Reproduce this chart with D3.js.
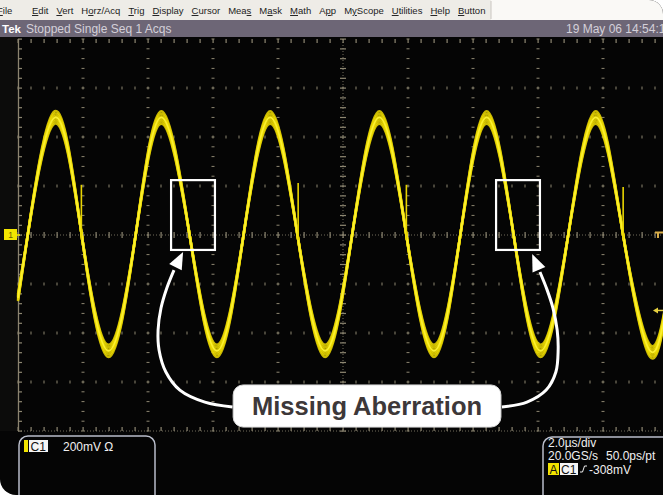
<!DOCTYPE html>
<html>
<head>
<meta charset="utf-8">
<script src="https://cdn.jsdelivr.net/npm/d3@7"></script>
<style>
  body { margin: 0; background: #fff; }
  svg { display: block; font-family: "Liberation Sans", Arial, sans-serif; }
</style>
</head>
<body>
<svg id="scope"></svg>
<script>
// scope settings
var timePerDiv = 2.0;    // us per division
var voltsPerDiv = 200;   // mV per division
var trigLevel = -308;    // mV

// menu / status bar
var menuItems = ["File", "Edit", "Vert", "Horz/Acq", "Trig", "Display", "Cursor", "Meas", "Mask", "Math", "App", "MyScope", "Utilities", "Help", "Button"];
var menuKeys = [0, 0, 0, 1, 0, 0, 0, 3, 1, 0, 1, 1, 0, 0, 0];
var statusWord = "Tek";
var statusText = "Stopped Single Seq 1 Acqs";
var dateText = "19 May 06 14:54:13";

// trace key points (us, mV): peaks, troughs, zero crossings
var traceT = [-10, -9.70, -8.87, -8.04, -7.21, -6.38, -5.59, -4.72, -3.88, -3.06, -2.24, -1.40, -0.55,
              0.28, 1.12, 1.95, 2.80, 3.61, 4.42, 5.25, 6.08, 6.93, 7.78, 8.62, 9.45, 10];
var traceV = [-270, 0, 505, 0, -498, 0, 505, 0, -498, 0, 505, 0, -498,
              0, 505, 0, -498, 0, 505, 0, -498, 0, 505, 0, -498, -250];

// glitches (the aberration) on the falling edges
var spikeT = [-8.05, -1.38, 1.95, 8.62];
var spikeV = [205, 212, 205, 196];

// where the glitch is missing (us / mV)
var boxT0 = [-5.29, 4.71];
var boxT1 = [-3.94, 6.06];
var boxVTop = 224;
var boxVBot = -61;

var calloutText = "Missing Aberration";
var calloutT = [-3.38, 4.86];
var calloutV = [-612, -784];

// callout arrows, path points in us / mV, last point is the tip
var arrow1T = [-3.40, -4.25, -5.02, -5.45, -5.66, -5.69, -5.60, -5.42, -5.20, -4.92];
var arrow1V = [-702, -682, -633, -559, -469, -388, -298, -216, -143, -69];
var arrow2T = [4.89, 5.66, 6.25, 6.55, 6.62, 6.59, 6.46, 6.28, 6.06, 5.82];
var arrow2V = [-702, -682, -633, -559, -469, -388, -298, -224, -151, -78];

// readouts
var chanName = "C1";
var chanScale = "200mV \u03a9";
var hReadout = ["2.0\u00b5s/div", "20.0GS/s", "50.0ps/pt"];
var trigSource = "C1";
var trigText = "-308mV";

var W = 663, H = 495;
var svg = d3.select("#scope").attr("width", W).attr("height", H);

// rounded frame of the screenshot
svg.append("clipPath").attr("id", "frame")
  .append("path").attr("d", "M0,0 H649 A14,14 0 0 1 663,14 V495 H16 A16,16 0 0 1 0,479 Z");
svg.append("filter").attr("id", "soft")
  .append("feGaussianBlur").attr("stdDeviation", 0.4);
var root = svg.append("g").attr("clip-path", "url(#frame)");

root.append("rect").attr("width", W).attr("height", H).attr("fill", "#050505");

// menu bar
root.append("rect").attr("width", W).attr("height", 20).attr("fill", "#faf9f6");
root.append("rect").attr("width", 491).attr("height", 20).attr("fill", "#eeece7");
root.append("line").attr("x1", 491).attr("x2", 491).attr("y1", 1).attr("y2", 19).attr("stroke", "#c9c6c0");

var menu = root.append("g").attr("font-size", "9.5px").attr("fill", "#1c1c1c");
var mx = 32;
menuItems.forEach(function(m, i) {
  var t = menu.append("text").attr("y", 14);
  var k = menuKeys[i];
  if (k > 0) t.append("tspan").text(m.slice(0, k));
  t.append("tspan").attr("text-decoration", "underline").text(m[k]);
  t.append("tspan").text(m.slice(k + 1));
  if (i == 0) {
    t.attr("x", -3);
  } else {
    t.attr("x", mx);
    mx += t.node().getComputedTextLength() + 8;
  }
});

// status bar
root.append("rect").attr("y", 20).attr("width", W).attr("height", 17).attr("fill", "#6d6676");
root.append("text").attr("x", 2).attr("y", 32.5).attr("font-size", "11.5px")
  .attr("font-weight", "bold").attr("fill", "#fff").text(statusWord);
root.append("text").attr("x", 26).attr("y", 33).attr("font-size", "12px")
  .attr("fill", "#d4d0d9").text(statusText);
root.append("text").attr("x", 566).attr("y", 33).attr("font-size", "12px")
  .attr("fill", "#d4d0d9").text(dateText);

// scales
var x = d3.scaleLinear().domain([-5 * timePerDiv, 5 * timePerDiv]).range([18, 668]);
var y = d3.scaleLinear().domain([-4 * voltsPerDiv, 4 * voltsPerDiv]).range([431, 39]);

// left strip
root.append("rect").attr("y", 37).attr("width", 18).attr("height", 394).attr("fill", "#0c0c0b");

// graticule
var gridCol = "#8e8772";
var grid = root.append("g").attr("fill", gridCol);
var minorT = d3.range(0, 51).map(function(i) { return -10 + i * timePerDiv / 5; });
var minorV = d3.range(0, 41).map(function(i) { return -800 + i * voltsPerDiv / 5; });
var majorT = d3.range(-4, 5).map(function(i) { return i * timePerDiv; }).filter(function(d) { return d != 0; });
var majorV = d3.range(-3, 4).map(function(i) { return i * voltsPerDiv; }).filter(function(d) { return d != 0; });

majorT.forEach(function(t) {
  grid.selectAll(null).data(minorV).enter().append("rect")
    .attr("x", x(t) - 1.5).attr("y", function(v) { return y(v) - 0.5; })
    .attr("width", 3).attr("height", 1);
});
majorV.forEach(function(v) {
  grid.selectAll(null).data(minorT).enter().append("rect")
    .attr("x", function(t) { return x(t) - 0.5; }).attr("y", y(v) - 1.5)
    .attr("width", 1).attr("height", 3);
});

// center cross with ticks
grid.append("line").attr("x1", 18).attr("x2", W).attr("y1", y(0)).attr("y2", y(0))
  .attr("stroke", gridCol).attr("stroke-dasharray", "1,2").attr("opacity", 0.8);
grid.append("line").attr("x1", x(0)).attr("x2", x(0)).attr("y1", 39).attr("y2", 431)
  .attr("stroke", gridCol).attr("stroke-dasharray", "1,2").attr("opacity", 0.8);
grid.selectAll(null).data(minorT).enter().append("rect")
  .attr("x", function(t) { return x(t) - 0.5; }).attr("y", y(0) - 3)
  .attr("width", 1.2).attr("height", 6);
grid.selectAll(null).data(minorV).enter().append("rect")
  .attr("x", x(0) - 3).attr("y", function(v) { return y(v) - 0.5; })
  .attr("width", 6).attr("height", 1.2);

// frame edges
grid.selectAll(null).data(minorT).enter().append("rect")
  .attr("x", function(t) { return x(t) - 0.5; }).attr("y", 39).attr("width", 1.2).attr("height", 4);
grid.selectAll(null).data(minorT).enter().append("rect")
  .attr("x", function(t) { return x(t) - 0.5; }).attr("y", 427).attr("width", 1.2).attr("height", 4);
grid.append("line").attr("x1", 18).attr("x2", W).attr("y1", 431).attr("y2", 431)
  .attr("stroke", gridCol).attr("stroke-dasharray", "1,2").attr("opacity", 0.8);
grid.selectAll(null).data(minorV).enter().append("rect")
  .attr("x", 18).attr("y", function(v) { return y(v) - 0.5; }).attr("width", 4).attr("height", 1.2);
root.append("line").attr("x1", 18.5).attr("x2", 18.5).attr("y1", 39).attr("y2", 431)
  .attr("stroke", "#8c8470").attr("stroke-width", 1.3);

// waveform: a few amplitude-jittered copies give the thick, fuzzy band at the peaks
var plot = root.append("g");
var tracePts = traceT.map(function(t, i) { return [t, traceV[i]]; });
var jitter = [1, 0.98, 0.96, 0.94, 0.92, 0.9];
var band = plot.append("g").attr("filter", "url(#soft)");
jitter.forEach(function(k) {
  var yk = d3.scaleLinear().domain(y.domain()).range([y(0) + (431 - y(0)) * k, y(0) - (y(0) - 39) * k]);
  var line = d3.line().curve(d3.curveNatural)
    .x(function(d) { return x(d[0]); })
    .y(function(d) { return yk(d[1]); });
  band.append("path").attr("d", line(tracePts))
    .attr("fill", "none").attr("stroke", "#ecd900").attr("stroke-width", 2.6).attr("opacity", 0.85);
});
var coreY = d3.scaleLinear().domain(y.domain()).range([y(0) + (431 - y(0)) * 0.95, y(0) - (y(0) - 39) * 0.95]);
plot.append("path")
  .attr("d", d3.line().curve(d3.curveNatural)
    .x(function(d) { return x(d[0]); })
    .y(function(d) { return coreY(d[1]); })(tracePts))
  .attr("fill", "none").attr("stroke", "#fbf030").attr("stroke-width", 1.8);

plot.selectAll(null).data(spikeT).enter().append("line")
  .attr("x1", function(t) { return x(t); }).attr("x2", function(t) { return x(t); })
  .attr("y1", y(-20)).attr("y2", function(t, i) { return y(spikeV[i]); })
  .attr("stroke", "#e8d400").attr("stroke-width", 1.6);

// channel 1 ground marker
root.append("rect").attr("x", 4).attr("y", y(0) - 6).attr("width", 13).attr("height", 11).attr("fill", "#f2e400");
root.append("text").attr("x", 10.5).attr("y", y(0) + 3).attr("font-size", "8.5px")
  .attr("text-anchor", "middle").attr("fill", "#6a6000").text("1");
root.append("line").attr("x1", 17).attr("x2", 20).attr("y1", y(0)).attr("y2", y(0))
  .attr("stroke", "#f2e400").attr("stroke-width", 1.5);

// trigger markers on the right
root.append("path").attr("d", "M655," + (y(0) - 2.5) + " H663 M658," + (y(0) - 2.5) + " V" + (y(0) + 3))
  .attr("stroke", "#d9ad48").attr("stroke-width", 2).attr("fill", "none");
var ty = y(trigLevel);
root.append("path").attr("d", "M657," + ty + " H663")
  .attr("stroke", "#e6d040").attr("stroke-width", 1.5);
root.append("path").attr("d", "M653," + ty + " L658," + (ty - 3) + " L658," + (ty + 3) + " Z")
  .attr("fill", "#e6d040");

// annotation boxes
var notes = root.append("g");
notes.selectAll(null).data(boxT0).enter().append("rect")
  .attr("x", function(t) { return x(t); }).attr("y", y(boxVTop))
  .attr("width", function(t, i) { return x(boxT1[i]) - x(t); })
  .attr("height", y(boxVBot) - y(boxVTop))
  .attr("fill", "none").attr("stroke", "#fff").attr("stroke-width", 2.2);

// arrows
function drawArrow(ts, vs) {
  var pts = ts.map(function(t, i) { return [x(t), y(vs[i])]; });
  var body = pts.slice(0, pts.length - 1);
  notes.append("path").attr("d", d3.line().curve(d3.curveCatmullRom)(body))
    .attr("fill", "none").attr("stroke", "#fff").attr("stroke-width", 3);
  var a = pts[pts.length - 2], b = pts[pts.length - 1];
  var ang = Math.atan2(b[1] - a[1], b[0] - a[0]);
  var len = 17, half = 7;
  var bx = b[0] - len * Math.cos(ang), by = b[1] - len * Math.sin(ang);
  var p1 = [bx + half * Math.sin(ang), by - half * Math.cos(ang)];
  var p2 = [bx - half * Math.sin(ang), by + half * Math.cos(ang)];
  notes.append("path").attr("d", "M" + b + "L" + p1 + "L" + p2 + "Z").attr("fill", "#fff");
}
drawArrow(arrow1T, arrow1V);
drawArrow(arrow2T, arrow2V);

// callout label
notes.append("rect")
  .attr("x", x(calloutT[0])).attr("y", y(calloutV[0]))
  .attr("width", x(calloutT[1]) - x(calloutT[0])).attr("height", y(calloutV[1]) - y(calloutV[0]))
  .attr("rx", 10).attr("fill", "#fff").attr("stroke", "#d8d8d8");
notes.append("text")
  .attr("x", (x(calloutT[0]) + x(calloutT[1])) / 2).attr("y", 415)
  .attr("text-anchor", "middle").attr("font-size", "25.5px").attr("font-weight", "bold")
  .attr("fill", "#3d3839").text(calloutText);

// readout boxes
var ro = root.append("g").attr("font-size", "12px");
ro.append("rect").attr("x", 19).attr("y", 436).attr("width", 136).attr("height", 80).attr("rx", 9)
  .attr("fill", "#050505").attr("stroke", "#b9bdca").attr("stroke-width", 1.5);
ro.append("rect").attr("x", 24).attr("y", 440).attr("width", 4).attr("height", 12).attr("fill", "#f2e400");
ro.append("rect").attr("x", 29).attr("y", 440).attr("width", 19).attr("height", 12).attr("fill", "#f4f4f4");
ro.append("text").attr("x", 30.5).attr("y", 450.5).attr("fill", "#111").text(chanName);
ro.append("text").attr("x", 63).attr("y", 450.5).attr("fill", "#f0f0f0").text(chanScale);

ro.append("rect").attr("x", 543).attr("y", 437).attr("width", 140).attr("height", 80).attr("rx", 9)
  .attr("fill", "#050505").attr("stroke", "#b9bdca").attr("stroke-width", 1.5);
ro.append("text").attr("x", 548).attr("y", 447).attr("fill", "#f0f0f0").text(hReadout[0]);
ro.append("text").attr("x", 548).attr("y", 460).attr("fill", "#f0f0f0").text(hReadout[1]);
ro.append("text").attr("x", 606).attr("y", 460).attr("fill", "#f0f0f0").text(hReadout[2]);
ro.append("rect").attr("x", 548).attr("y", 463).attr("width", 11).attr("height", 12).attr("fill", "#f2e400");
ro.append("text").attr("x", 549.5).attr("y", 473.5).attr("fill", "#111").text("A");
ro.append("rect").attr("x", 560).attr("y", 463).attr("width", 18).attr("height", 12).attr("fill", "#f4f4f4");
ro.append("text").attr("x", 561).attr("y", 473.5).attr("fill", "#111").text(trigSource);
ro.append("path").attr("d", "M580,472 H582.5 L584.5,466 H587")
  .attr("fill", "none").attr("stroke", "#f0f0f0").attr("stroke-width", 1);
ro.append("text").attr("x", 589).attr("y", 473.5).attr("fill", "#f0f0f0").text(trigText);
</script>
</body>
</html>
